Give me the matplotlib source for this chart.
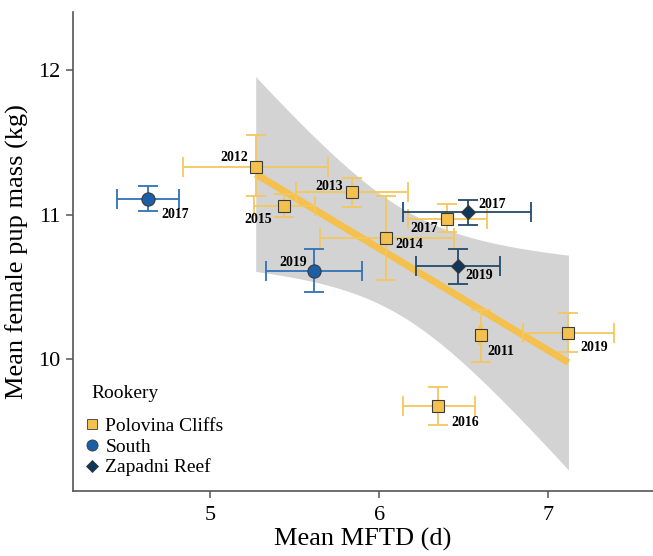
import numpy as np
from matplotlib import pyplot as plt
from matplotlib.lines import Line2D

plt.rcParams['font.family'] = ['Liberation Serif', 'DejaVu Serif']

# Polovina Cliffs
pc_year = ['2012', '2015', '2013', '2014', '2017', '2011', '2019', '2016']
pc_x = [5.27, 5.44, 5.84, 6.04, 6.40, 6.60, 7.12, 6.35]
pc_x_lo = [4.84, 5.26, 5.51, 5.65, 6.17, 6.59, 6.85, 6.14]
pc_x_hi = [5.70, 5.62, 6.17, 6.44, 6.64, 6.61, 7.39, 6.57]
pc_y = [11.33, 11.06, 11.155, 10.84, 10.97, 10.165, 10.18, 9.68]
pc_y_lo = [11.13, 10.98, 11.05, 10.545, 10.88, 9.98, 10.05, 9.546]
pc_y_hi = [11.55, 11.14, 11.25, 11.13, 11.07, 10.34, 10.32, 9.81]

# South
so_year = ['2017', '2019']
so_x = [4.635, 5.617]
so_x_lo = [4.448, 5.33]
so_x_hi = [4.815, 5.90]
so_y = [11.107, 10.61]
so_y_lo = [11.024, 10.465]
so_y_hi = [11.196, 10.76]

# Zapadni Reef
zr_year = ['2017', '2019']
zr_x = [6.525, 6.467]
zr_x_lo = [6.14, 6.22]
zr_x_hi = [6.90, 6.716]
zr_y = [11.015, 10.646]
zr_y_lo = [10.93, 10.52]
zr_y_hi = [11.10, 10.76]

# label offsets in pixels (ha, dx, dy)
pc_lab = [('right', -8, 9), ('right', -12, -14), ('right', -9, 6), ('left', 9, -7),
          ('right', -9, -10), ('left', 7, -16), ('left', 12, -14), ('left', 13, -17)]
so_lab = [('left', 13, -15), ('right', -7, 8)]
zr_lab = [('left', 10, 8), ('left', 7, -10)]

c_pc = '#f4c14f'
c_pc_err = '#f5c75e'
c_so = '#1b5fa6'
c_so_err = '#2f72b6'
c_zr = '#10365a'
c_zr_err = '#24496b'

fig = plt.figure(figsize=(6.53, 5.56), dpi=100)
ax = fig.add_axes([0.112, 0.1175, 0.888, 0.861])

# linear fit with 95% CI on Polovina Cliffs
x = np.array(pc_x)
y = np.array(pc_y)
n = len(x)
b, a = np.polyfit(x, y, 1)
res = y - (a + b * x)
s = np.sqrt(np.sum(res ** 2) / (n - 2))
sxx = np.sum((x - x.mean()) ** 2)
xs = np.linspace(x.min(), x.max(), 200)
ys = a + b * xs
t = 2.447  # t(0.975, df=6)
se = s * np.sqrt(1 / n + (xs - x.mean()) ** 2 / sxx)
ax.fill_between(xs, ys - t * se, ys + t * se, color='#d3d3d3', lw=0, zorder=1)
ax.plot(xs, ys, color='#f4c14f', lw=5, solid_capstyle='butt', zorder=2)


def draw_group(xv, xl, xh, yv, yl, yh, col, ecol, mk, ms, years, labs):
    xv = np.array(xv); yv = np.array(yv)
    xerr = [xv - np.array(xl), np.array(xh) - xv]
    yerr = [yv - np.array(yl), np.array(yh) - yv]
    ax.errorbar(xv, yv, xerr=xerr, yerr=yerr, fmt='none', ecolor=ecol,
                elinewidth=1.3, capsize=7.5, capthick=1.3, zorder=3)
    ax.plot(xv, yv, mk, ms=ms, mfc=col, mec='#3a3a3a', mew=0.8, ls='none', zorder=4)
    for xi, yi, yr, (ha, dx, dy) in zip(xv, yv, years, labs):
        ax.annotate(yr, (xi, yi), xytext=(dx, dy), textcoords='offset pixels',
                    ha=ha, va='center', fontsize=10, fontweight='bold', zorder=5)


draw_group(pc_x, pc_x_lo, pc_x_hi, pc_y, pc_y_lo, pc_y_hi, c_pc, c_pc_err, 's', 8.5, pc_year, pc_lab)
draw_group(so_x, so_x_lo, so_x_hi, so_y, so_y_lo, so_y_hi, c_so, c_so_err, 'o', 9.5, so_year, so_lab)
draw_group(zr_x, zr_x_lo, zr_x_hi, zr_y, zr_y_lo, zr_y_hi, c_zr, c_zr_err, 'D', 7.5, zr_year, zr_lab)

ax.set_xlim(4.19, 7.62)
ax.set_ylim(9.092, 12.40)
ax.set_xticks([5, 6, 7])
ax.set_yticks([10, 11, 12])
for sp in ['top', 'right']:
    ax.spines[sp].set_visible(False)
for sp in ['left', 'bottom']:
    ax.spines[sp].set_color('#555555')
    ax.spines[sp].set_linewidth(1.2)
ax.tick_params(direction='out', length=5, width=1.1, color='#555555', labelsize=16)
ax.tick_params(axis='y', pad=4)
ax.tick_params(axis='x', pad=6)
ax.set_xlabel('Mean MFTD (d)', fontsize=19, labelpad=2)
ax.set_ylabel('Mean female pup mass (kg)', fontsize=19, labelpad=7)

handles = [
    Line2D([], [], marker='s', ls='none', ms=7, mfc=c_pc, mec='#3a3a3a', mew=0.6),
    Line2D([], [], marker='o', ls='none', ms=8, mfc=c_so, mec='#3a3a3a', mew=0.6),
    Line2D([], [], marker='D', ls='none', ms=6.5, mfc=c_zr, mec='#3a3a3a', mew=0.6),
]
ax.text(0.031, 0.204, 'Rookery', transform=ax.transAxes, fontsize=14, ha='left', va='center')
ax.legend(handles, ['Polovina Cliffs', 'South', 'Zapadni Reef'],
          loc='lower left', bbox_to_anchor=(0.022, 0.03), frameon=False, fontsize=14,
          handlelength=0.6, handletextpad=0.4, labelspacing=0.15,
          borderaxespad=0, borderpad=0)

fig.savefig('out.png', dpi=100)
